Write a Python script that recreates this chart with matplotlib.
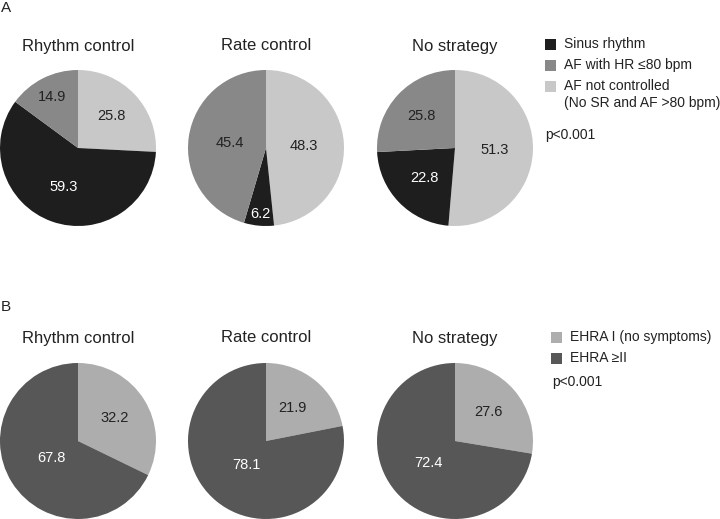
import matplotlib
matplotlib.use("Agg")
import matplotlib.pyplot as plt
from matplotlib.patches import Rectangle
import numpy as np

####### DATA #######
strategies = ["Rhythm control", "Rate control", "No strategy"]

# panel A (legend order: sinus rhythm, AF with HR <=80, AF not controlled)
rhythm_labels = ["Sinus rhythm", "AF with HR \u226480 bpm", "AF not controlled"]
sinus_rhythm = [59.3, 6.2, 22.8]
af_hr_controlled = [14.9, 45.4, 25.8]
af_not_controlled = [25.8, 48.3, 51.3]

# panel B
ehra_labels = ["EHRA I (no symptoms)", "EHRA \u2265II"]
ehra_1 = [32.2, 21.9, 27.6]
ehra_2plus = [67.8, 78.1, 72.4]

p_text = "p<0.001"

####### STYLE #######
W, H = 720, 519
R = 78
CX = [78, 266, 455]
ROW_Y = [148, 441]          # pie centres, pixels from top
TITLE_Y = [46, 338]
COL_A = ["#1e1e1e", "#888888", "#c8c8c8"]
COL_B = ["#adadad", "#575757"]
TXT = "#222222"

plt.rcParams["font.family"] = ["Liberation Sans", "DejaVu Sans"]

fig = plt.figure(figsize=(W / 100, H / 100), dpi=100)
ax = fig.add_axes([0, 0, 1, 1])


def Y(y):
    # pixel from top -> data coordinate
    return H - y


def draw_pie(vals, cols, cx, cy, dists, txtcols):
    wedges, _ = ax.pie(vals, colors=cols, startangle=90, counterclock=False,
                       center=(cx, Y(cy)), radius=R, frame=True,
                       wedgeprops=dict(linewidth=0))
    for w, v, d, tc in zip(wedges, vals, dists, txtcols):
        ang = np.deg2rad((w.theta1 + w.theta2) / 2)
        ax.text(cx + d * R * np.cos(ang), Y(cy) + d * R * np.sin(ang),
                f"{v:.1f}", ha="center", va="center", fontsize=10.5, color=tc)


# panel A: clockwise from top -> not controlled, sinus, AF HR<=80
dist_a = [[0.6, 0.53, 0.73], [0.48, 0.85, 0.47], [0.51, 0.55, 0.6]]
for i in range(3):
    vals = [af_not_controlled[i], sinus_rhythm[i], af_hr_controlled[i]]
    cols = [COL_A[2], COL_A[0], COL_A[1]]
    draw_pie(vals, cols, CX[i], ROW_Y[0], dist_a[i], [TXT, "white", TXT])
    ax.text(CX[i], Y(TITLE_Y[0]), strategies[i], ha="center", va="center",
            fontsize=12, color=TXT)

# panel B: clockwise from top -> EHRA I, EHRA >=II
dist_b = [[0.55, 0.4], [0.54, 0.4], [0.57, 0.44]]
for i in range(3):
    vals = [ehra_1[i], ehra_2plus[i]]
    draw_pie(vals, COL_B, CX[i], ROW_Y[1], dist_b[i], [TXT, "white"])
    ax.text(CX[i], Y(TITLE_Y[1]), strategies[i], ha="center", va="center",
            fontsize=12, color=TXT)

# panel letters
ax.text(1, Y(8), "A", ha="left", va="center", fontsize=11, color=TXT)
ax.text(1, Y(307), "B", ha="left", va="center", fontsize=11, color=TXT)

# legend A
sq = 11
for lab, col, yy in zip(rhythm_labels, COL_A, [44, 65, 86]):
    ax.add_patch(Rectangle((545, Y(yy) - sq / 2), sq, sq, color=col, lw=0))
    ax.text(564, Y(yy), lab, ha="left", va="center", fontsize=10, color=TXT)
ax.text(564, Y(103), "(No SR and AF >80 bpm)", ha="left", va="center",
        fontsize=10, color=TXT)
ax.text(545, Y(135), p_text, ha="left", va="center", fontsize=10, color=TXT)

# legend B
for lab, col, yy in zip(ehra_labels, COL_B, [337, 358]):
    ax.add_patch(Rectangle((551, Y(yy) - sq / 2), sq, sq, color=col, lw=0))
    ax.text(570, Y(yy), lab, ha="left", va="center", fontsize=10, color=TXT)
ax.text(552, Y(382), p_text, ha="left", va="center", fontsize=10, color=TXT)

ax.set_xlim(0, W)
ax.set_ylim(0, H)
ax.set_aspect("equal")
ax.axis("off")

fig.savefig("out.png", dpi=100)
